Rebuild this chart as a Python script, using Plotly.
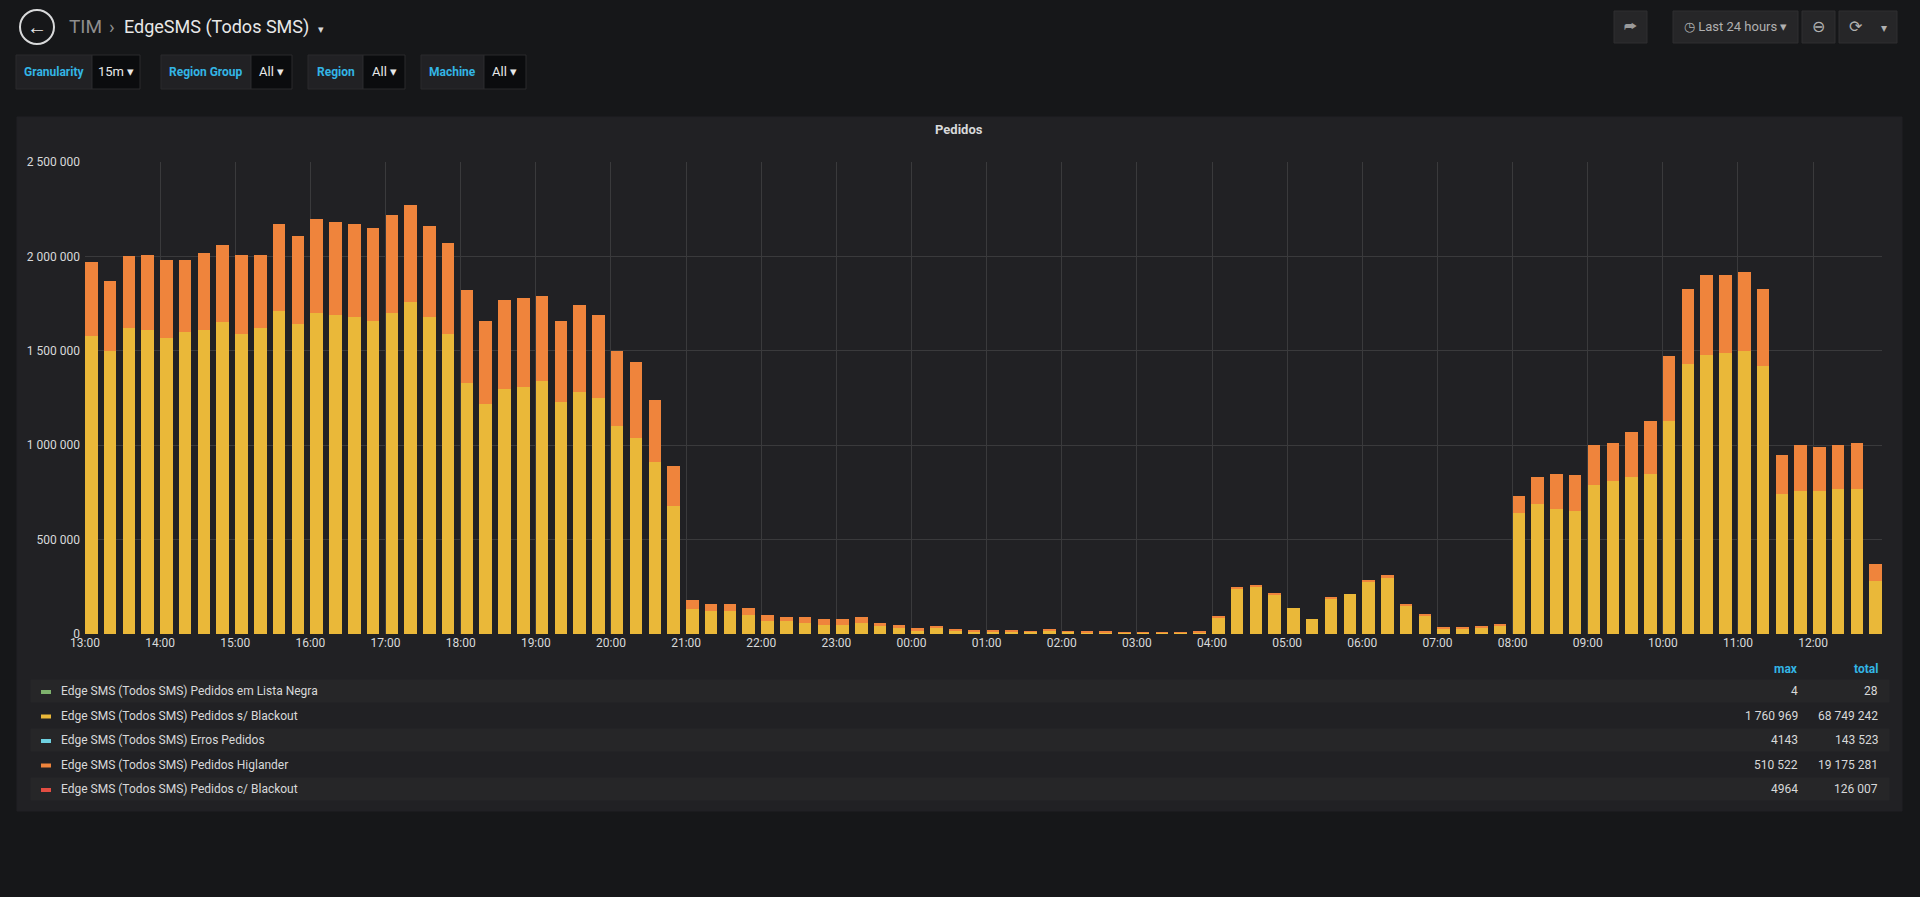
import plotly.graph_objects as go
import pandas as pd

W, H = 1920, 897
def px(x): return x / W
def py(y): return 1 - y / H

start = pd.Timestamp("2024-01-01 13:00")
times = pd.date_range(start, periods=96, freq="15min")

blackout_s = [1.58,1.50,1.62,1.61,1.57,1.60,1.61,1.65,1.59,1.62,1.71,1.64,1.70,1.69,1.68,1.66,
              1.70,1.76,1.68,1.59,1.33,1.22,1.30,1.31,1.34,1.23,1.28,1.25,1.10,1.04,0.91,0.68,
              0.13,0.12,0.12,0.10,0.07,0.07,0.06,0.05,0.05,0.06,0.04,0.03,0.02,0.03,0.02,0.015,
              0.015,0.015,0.012,0.018,0.012,0.010,0.010,0.008,0.008,0.007,0.006,0.010,
              0.09,0.24,0.25,0.21,0.14,0.08,0.19,0.21,0.28,0.30,0.15,0.10,0.03,0.03,0.035,0.045,
              0.64,0.69,0.66,0.65,0.79,0.81,0.83,0.85,1.13,1.43,1.48,1.49,1.50,1.42,
              0.74,0.76,0.76,0.77,0.77,0.28]
totals = [1.97,1.87,2.00,2.01,1.98,1.98,2.02,2.06,2.01,2.01,2.17,2.11,2.20,2.18,2.17,2.15,
          2.22,2.27,2.16,2.07,1.82,1.66,1.77,1.78,1.79,1.66,1.74,1.69,1.50,1.44,1.24,0.89,
          0.18,0.16,0.16,0.14,0.10,0.09,0.09,0.08,0.08,0.09,0.06,0.05,0.03,0.045,0.025,0.02,
          0.02,0.02,0.015,0.022,0.015,0.013,0.012,0.010,0.010,0.009,0.008,0.012,
          0.095,0.25,0.255,0.215,0.14,0.08,0.195,0.21,0.285,0.31,0.155,0.105,0.035,0.035,0.045,0.055,
          0.73,0.83,0.85,0.84,1.00,1.01,1.07,1.13,1.47,1.83,1.90,1.90,1.92,1.83,
          0.95,1.00,0.99,1.00,1.01,0.37]
higlander = [max(t - b, 0) for t, b in zip(totals, blackout_s)]

y_ticks = [0, 500000, 1000000, 1500000, 2000000, 2500000]
y_tick_labels = ["0", "500 000", "1 000 000", "1 500 000", "2 000 000", "2 500 000"]

legend_names = ["Edge SMS (Todos SMS) Pedidos em Lista Negra",
                "Edge SMS (Todos SMS) Pedidos s/ Blackout",
                "Edge SMS (Todos SMS) Erros Pedidos",
                "Edge SMS (Todos SMS) Pedidos Higlander",
                "Edge SMS (Todos SMS) Pedidos c/ Blackout"]
legend_colors = ["#7EB26D", "#EAB839", "#6ED0E0", "#EF843C", "#E24D42"]
legend_max = ["4", "1 760 969", "4143", "510 522", "4964"]
legend_total = ["28", "68 749 242", "143 523", "19 175 281", "126 007"]

xs = times + pd.Timedelta(minutes=5)
bw = 10 * 60 * 1000

fig = go.Figure()
fig.add_bar(x=xs, y=[v * 1e6 for v in blackout_s], marker_color="#EAB839", width=bw,
            marker_line_width=0, name=legend_names[1])
fig.add_bar(x=xs, y=[v * 1e6 for v in higlander], marker_color="#EF843C", width=bw,
            marker_line_width=0, name=legend_names[3])

x0d, x1d = 85, 1882
y0d, y1d = 162, 634
fig.update_layout(
    width=W, height=H, barmode="stack", showlegend=False,
    paper_bgcolor="#161719", plot_bgcolor="#212124",
    margin=dict(l=0, r=0, t=0, b=0, pad=0, autoexpand=False),
    font=dict(family="Roboto", color="#d8d9da", size=12),
    xaxis=dict(domain=[px(x0d), px(x1d)],
               range=[start, start + pd.Timedelta(hours=23, minutes=55)],
               tickformat="%H:%M", dtick=3600000, showgrid=True, gridcolor="#3a3a3c",
               ticks="", zeroline=False, showline=False, tickfont=dict(size=12)),
    yaxis=dict(domain=[py(y1d), py(y0d)], range=[0, 2500000], tickvals=y_ticks,
               ticktext=y_tick_labels, gridcolor="#3a3a3c", zeroline=False, showline=False,
               tickfont=dict(size=12), ticklabelstandoff=4),
)

shapes = []
ann = []
def rect(x0, y0, x1, y1, fill, line=None, layer="below"):
    shapes.append(dict(type="rect", xref="paper", yref="paper", x0=px(x0), x1=px(x1),
                       y0=py(y1), y1=py(y0), fillcolor=fill, layer=layer,
                       line=dict(color=line or fill, width=1)))
def text(x, y, s, color="#d8d9da", size=12, anchor="left", bold=False):
    ann.append(dict(xref="paper", yref="paper", x=px(x), y=py(y), text=("<b>%s</b>" % s) if bold else s,
                    showarrow=False, xanchor=anchor, yanchor="middle",
                    font=dict(color=color, size=size)))

# panel
rect(17, 117, 1902, 811, "#212124")
text(959, 130, "Pedidos", size=13, anchor="center", bold=True)

# header
shapes.append(dict(type="circle", xref="paper", yref="paper", x0=px(20), x1=px(54), y0=py(44), y1=py(10),
                   line=dict(color="#d8d9da", width=2)))
text(37, 27, "<b>←</b>", color="#e8e8e8", size=20, anchor="center")
text(67, 27, "TIM", color="#8e8e8e", size=19)
text(107, 27, "›", color="#8e8e8e", size=19)
text(122, 27, "EdgeSMS (Todos SMS)", color="#e8e8e8", size=18)
text(316, 30, "▾", color="#d8d9da", size=11)

# variable buttons
buttons = [(16, 92, 140, "Granularity", "15m"), (161, 251, 292, "Region Group", "All"),
           (308, 363, 405, "Region", "All"), (421, 484, 526, "Machine", "All")]
for x0, xm, x1, lab, val in buttons:
    rect(x0, 55, xm, 89, "#212124", "#2a2a2c")
    rect(xm, 55, x1, 89, "#0b0c0e", "#2a2a2c")
    text((x0 + xm) / 2, 72, lab, color="#33b5e5", size=12, anchor="center", bold=True)
    text((xm + x1) / 2, 72, val + " ▾", color="#e8e8e8", size=13, anchor="center")

# right toolbar
for x0, x1 in [(1614, 1647), (1673, 1798), (1802, 1835), (1839, 1897)]:
    rect(x0, 11, x1, 43, "#262628", "#2e2e30")
text(1630, 27, "⮫", color="#9a9a9a", size=14, anchor="center")
text(1735, 27, "◷ Last 24 hours ▾", color="#b0b0b0", size=13, anchor="center")
text(1818, 27, "⊖", color="#b0b0b0", size=16, anchor="center")
text(1856, 27, "⟳", color="#b0b0b0", size=16, anchor="center")
text(1884, 28, "▾", color="#b0b0b0", size=12, anchor="center")

# legend table
text(1800, 669, "max", color="#33b5e5", size=12, anchor="right", bold=True)
text(1880, 669, "total", color="#33b5e5", size=12, anchor="right", bold=True)
for i in range(5):
    y = 691 + i * 24.5
    if i % 2 == 0:
        rect(31, y - 11, 1889, y + 11, "#262628")
    shapes.append(dict(type="line", xref="paper", yref="paper", x0=px(41), x1=px(51), y0=py(y + 1), y1=py(y + 1),
                       line=dict(color=legend_colors[i], width=4)))
    text(59, y, legend_names[i], size=12)
    text(1800, y, legend_max[i], size=12, anchor="right")
    text(1880, y, legend_total[i], size=12, anchor="right")

fig.update_layout(shapes=shapes, annotations=ann)
fig.write_html("out.html", config={"displayModeBar": False},
               post_script="document.body.style.margin='0';document.body.style.overflow='hidden';"
                           "document.documentElement.style.overflow='hidden';"
                           "document.body.style.background='#161719';")
